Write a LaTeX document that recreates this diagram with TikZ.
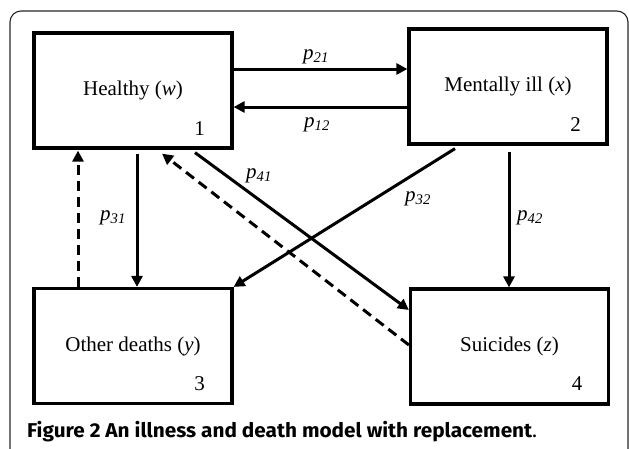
\documentclass[tikz,border=0pt]{standalone}
\usepackage{fontspec}
\setmainfont{Liberation Serif}
\newfontfamily\capfont{Fira Sans}
\usetikzlibrary{arrows.meta, positioning}

\newsavebox\capbox

\begin{document}
% caption text, measured here so it can be stretched to the printed width
\sbox\capbox{\capfont\fontsize{20}{24}\selectfont\textbf{Figure 2 An illness and death model with replacement}.}
\begin{tikzpicture}[x=1pt, y=-1pt,
  font=\fontsize{21}{24}\selectfont,
  state/.style={draw, line width=3.2pt, minimum width=198pt, minimum height=115pt, inner sep=0pt},
  num/.style={inner sep=0pt},
  rate/.style={inner sep=0pt, font=\fontsize{21}{24}\selectfont\itshape},
  trans/.style={line width=3pt, -{Triangle[length=11pt, width=11pt]}},
  back/.style={trans, dash pattern=on 10pt off 6pt}]

\useasboundingbox (0,0) rectangle (629,448);
\clip (0,0) rectangle (629,448);

% outer frame, open at the bottom
\draw[line width=1.1pt, black!85, rounded corners=11pt] (10,470) -- (10,11) -- (628,11) -- (628,470);

% the four states
\node[state] (h) at (133,90.5) {Healthy (\textit{w})};
\node[state] (m) at (508,86.5) {Mentally ill (\textit{x})};
\node[state] (o) at (133,346) {Other deaths (\textit{y})};
\node[state] (s) at (509.5,346.5) {Suicides (\textit{z})};

\node[num] at ([xshift=-34pt, yshift=21pt]h.south east) {1};
\node[num] at ([xshift=-33pt, yshift=21pt]m.south east) {2};
\node[num] at ([xshift=-34pt, yshift=21pt]o.south east) {3};
\node[num] at ([xshift=-33pt, yshift=22pt]s.south east) {4};

% transitions
\draw[trans] ([yshift=21.5pt]h.east) -- ([yshift=17.5pt]m.west);
\draw[trans] ([yshift=-20.5pt]m.west) -- ([yshift=-16.5pt]h.east);
\draw[trans] ([xshift=4pt, yshift=-4pt]h.south) -- ([xshift=4pt]o.north);
\draw[trans] ([xshift=62pt, yshift=-3pt]h.south) -- ([yshift=36.5pt]s.west);
\draw[trans] ([xshift=-53pt, yshift=-3pt]m.south) -- (o.north east);
\draw[trans] ([xshift=1pt, yshift=-6pt]m.south) -- ([xshift=-0.5pt]s.north);

% replacement (dashed)
\draw[back] ([xshift=-55pt]o.north) -- ([xshift=-55pt, yshift=-1pt]h.south);
\draw[back] ([yshift=1.5pt]s.west) -- ([xshift=29pt, yshift=-4pt]h.south);

% rates
\node[rate] (p21) at (316,57) {p\textsubscript{21}};
\node[rate] (p12) at (317,125) {p\textsubscript{12}};
\node[rate] (p31) at (113,218) {p\textsubscript{31}};
\node[rate] (p41) at (259,176) {p\textsubscript{41}};
\node[rate] (p32) at (418,199) {p\textsubscript{32}};
\node[rate] (p42) at (530,218) {p\textsubscript{42}};

% caption
\pgfmathsetmacro\capscale{510/\wd\capbox}
\node[anchor=base west, inner sep=0pt] (cap) at (27,437) {\scalebox{\capscale}[1]{\usebox\capbox}};

\end{tikzpicture}
\end{document}
